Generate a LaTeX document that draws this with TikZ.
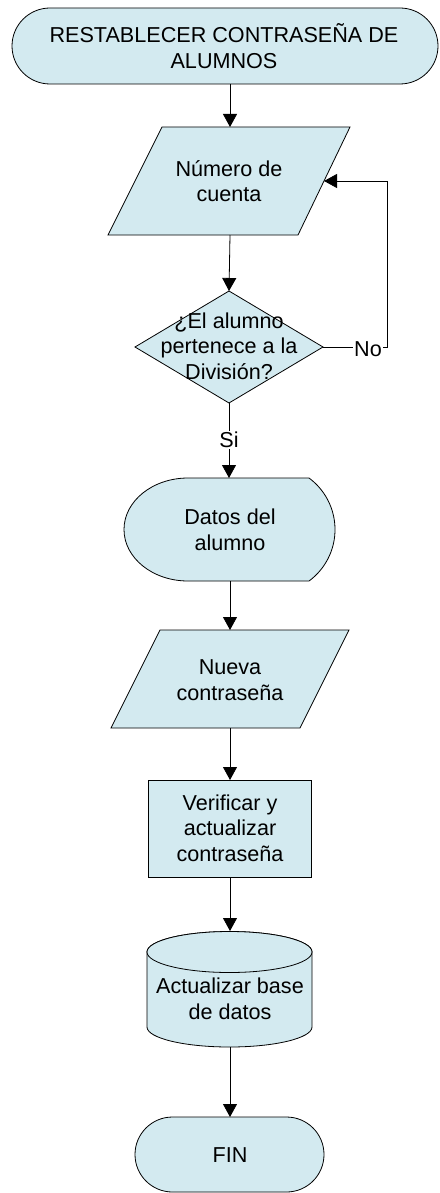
\documentclass[tikz,border=0pt]{standalone}
\usepackage{fontspec}
\setmainfont{Liberation Sans}
\usetikzlibrary{arrows.meta}
\definecolor{shapefill}{RGB}{211,234,240}
\tikzset{
  shp/.style={draw=black, line width=0.8pt, fill=shapefill, line join=miter},
  txt/.style={align=center, inner sep=0pt, font=\fontsize{21.6pt}{25.5pt}\selectfont},
  lbl/.style={fill=white, inner sep=1pt, font=\fontsize{21.6pt}{25.5pt}\selectfont},
  arr/.style={draw=black, line width=0.8pt, -{Triangle[width=14pt,length=13pt]}},
  ln/.style={draw=black, line width=0.8pt}
}
\begin{document}
\begin{tikzpicture}[x=1pt,y=-1pt]
\useasboundingbox (0,0) rectangle (439,1193);
% start terminal
\draw[shp] (50,8) -- (400,8) arc[start angle=-90,end angle=90,radius=38] -- (50,84) arc[start angle=90,end angle=270,radius=38] -- cycle;
\node[txt] (start) at (224,46) {RESTABLECER CONTRASEÑA DE\\ALUMNOS};
\coordinate (startb) at (230,84);
% input 1
\draw[shp] (162,127) -- (350,127) -- (298,235) -- (108,235) -- cycle;
\node[txt] (num) at (229,181) {Número de\\cuenta};
\coordinate (numt) at (230,127);
\coordinate (numb) at (230,235);
\coordinate (numr) at (324,181);
% decision
\draw[shp] (229,291) -- (323,347) -- (229,403) -- (135,347) -- cycle;
\node[txt] (dec) at (229,346) {¿El alumno\\pertenece a la\\División?};
\coordinate (dect) at (229,291);
\coordinate (decr) at (323,347);
\coordinate (decb) at (229,403);
\coordinate (loopa) at (387,347);
\coordinate (loopb) at (387,181);
% display
\draw[shp] (188,478) -- (309,478) arc[start angle=-53.6,end angle=53.6,radius=64] -- (188,581) arc[x radius=64,y radius=51.5,start angle=90,end angle=270] -- cycle;
\node[txt] (datos) at (230,530) {Datos del\\alumno};
\coordinate (datost) at (229,478);
\coordinate (datosb) at (230,581);
% input 2
\draw[shp] (160,630) -- (349,630) -- (300,728) -- (111,728) -- cycle;
\node[txt] (nueva) at (230,680) {Nueva\\contraseña};
\coordinate (nuevat) at (230,630);
\coordinate (nuevab) at (230,728);
% process
\draw[shp] (148,780) rectangle (311,877);
\node[txt] (verif) at (230,828) {Verificar y\\actualizar\\contraseña};
\coordinate (verift) at (230,780);
\coordinate (verifb) at (230,877);
% database
\draw[shp] (147,952) -- (147,1027) arc[x radius=82.5,y radius=20,start angle=180,end angle=0] -- (312,952) arc[x radius=82.5,y radius=20.5,start angle=0,end angle=-180] -- cycle;
\draw[shp] (229.5,952) ellipse[x radius=82.5,y radius=20.5];
\node[txt] (db) at (230,999) {Actualizar base\\de datos};
\coordinate (dbt) at (230,931);
\coordinate (dbb) at (230,1047);
% end terminal
\draw[shp] (172.5,1117) -- (286.5,1117) arc[start angle=-90,end angle=90,radius=37.5] -- (172.5,1192) arc[start angle=90,end angle=270,radius=37.5] -- cycle;
\node[txt] (fin) at (230,1155) {FIN};
\coordinate (fint) at (230,1117);
% connectors
\draw[arr] (startb) -- (numt);
\draw[arr] (numb) -- (dect);
\draw[arr] (decr) -- (loopa) -- (loopb) -- (numr);
\node[lbl] (no) at (368,349) {No};
\draw[arr] (decb) -- (datost);
\node[lbl] (si) at (229,440) {Si};
\draw[arr] (datosb) -- (nuevat);
\draw[arr] (nuevab) -- (verift);
\draw[arr] (verifb) -- (dbt);
\draw[arr] (dbb) -- (fint);
\end{tikzpicture}
\end{document}
